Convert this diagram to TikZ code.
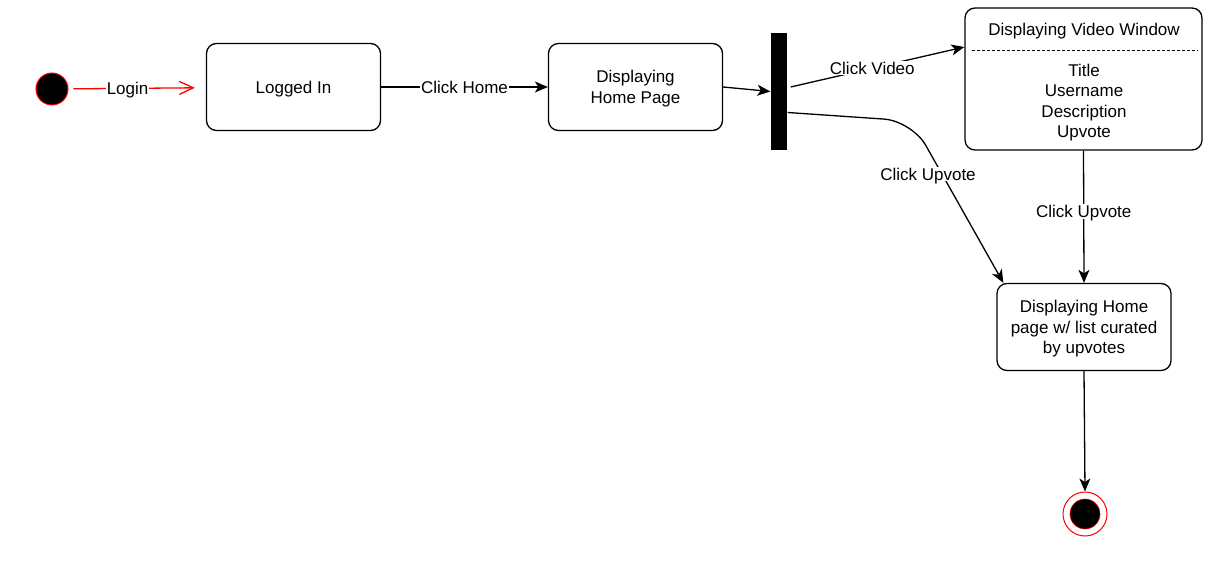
\documentclass[tikz,border=0pt]{standalone}
\usepackage{fontspec}
\setmainfont{Liberation Sans}
\usetikzlibrary{arrows.meta,positioning}

\begin{document}
\begin{tikzpicture}[x=1pt, y=-1pt, >={Stealth[length=13pt,width=11pt,inset=3.5pt]}, line width=1.3pt,
    nodes={font=\fontsize{17}{20.5}\selectfont},
    state/.style={draw, rounded corners=10pt, minimum width=174pt, minimum height=87pt, align=center, text depth=0pt},
    lbl/.style={fill=white, inner sep=1pt, text depth=0pt}]
  \useasboundingbox (0,0) rectangle (1210,580);
  \node[circle, draw=red, fill=black, minimum size=32pt, line width=1pt] (start) at (52,89) {};
  \node[state] (loggedin) at (293.5,87) {Logged In};
  \node[state] (homepage) at (635.5,87) {Displaying\\Home Page};
  \node[fill=black, minimum width=16pt, minimum height=117pt, inner sep=0pt] (fork) at (779,91.5) {};
  \node[state, minimum width=237pt, minimum height=142pt] (video) at (1083.5,79) {};
  \node[text depth=0pt] (videotitle) at (1084,29) {Displaying Video Window};
  \node[align=center, text depth=0pt] (videoattrs) at (1084,101) {Title\\Username\\Description\\Upvote};
  \draw[dash pattern=on 3pt off 2pt, line width=1pt] ([xshift=8pt,yshift=-43pt]video.north west) -- ([xshift=-5pt,yshift=-43pt]video.north east);
  \node[state] (curated) at (1084,327) {Displaying Home\\page w/ list curated\\by upvotes};
  \node[circle, draw=red, fill=white, minimum size=44pt, line width=1pt] (finish) at (1085,514) {};
  \node[circle, draw=red, fill=black, minimum size=30pt, line width=0.6pt] (finishdot) at (finish) {};
  \draw[red, -{Straight Barb[length=14pt,width=13pt]}, shorten <=5pt, shorten >=11pt] (start) -- node[lbl, text=black, pos=0.43] {Login} (loggedin);
  \draw[->] (loggedin) -- node[lbl] {Click Home} (homepage);
  \draw[->] (homepage.east) -- (fork.west);
  \draw[->] ([xshift=3pt,yshift=4.5pt]fork.east) -- node[lbl, pos=0.47] {Click Video} ([yshift=32pt]video.west);
  \coordinate (turn) at (912,121);
  \draw[->, rounded corners=28pt] ([yshift=-21pt]fork.east) -- (turn) -- ([xshift=7pt]curated.north west);
  \node[lbl] (upvotelbl) at (928,174) {Click Upvote};
  \draw[->] (video.south) -- node[lbl, pos=0.46] {Click Upvote} (curated.north);
  \draw[->] (curated.south) -- (finish.north);
\end{tikzpicture}
\end{document}
